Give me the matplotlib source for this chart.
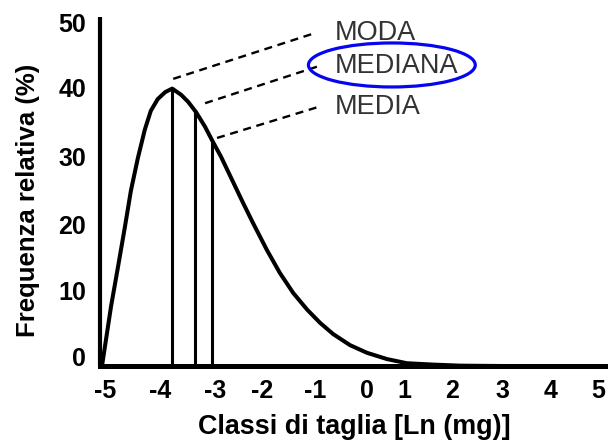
import matplotlib
matplotlib.use("Agg")
import matplotlib.pyplot as plt
from matplotlib.patches import Ellipse

plt.rcParams['font.family'] = ['Liberation Sans', 'DejaVu Sans']

# Size-class frequency curve (x: Ln(mg), y: relative frequency %)
curve_x = [-5.00, -4.82, -4.68, -4.54, -4.42, -4.28, -4.14, -4.02, -3.88, -3.73,
           -3.59, -3.41, -3.27, -3.11, -2.93, -2.77, -2.61, -2.37, -2.17, -1.97,
           -1.69, -1.43, -1.16, -0.88, -0.62, -0.36, -0.02, 0.32, 0.72, 1.12,
           1.65, 2.19, 3.00]
curve_y = [0.0, 8.5, 14.2, 20.0, 25.2, 29.9, 34.0, 36.7, 38.4, 39.4,
           39.9, 39.0, 38.0, 36.5, 34.4, 32.2, 30.1, 26.5, 23.5, 20.6,
           16.7, 13.4, 10.5, 8.1, 6.2, 4.6, 3.0, 1.9, 1.0, 0.4,
           0.2, 0.05, 0.0]

# Central tendency measures
stat_names = ['MODA', 'MEDIANA', 'MEDIA']
stat_x = [-3.59, -3.13, -2.79]
stat_y = [39.9, 36.8, 32.5]

x_tick_labels = ['-5', '-4', '-3', '-2', '-1', '0', '1', '2', '3', '4', '5']
y_tick_labels = ['0', '10', '20', '30', '40', '50']

# Label positions along the axes
x_tick_pos = [-4.94, -3.84, -2.73, -1.79, -0.72, 0.32, 1.08, 2.03, 3.05, 4.00, 4.96]
y_tick_pos = [1.3, 10.9, 20.4, 30.1, 40.0, 49.4]

W, H = 608, 443
fig = plt.figure(figsize=(W / 100, H / 100), dpi=100)
ax = fig.add_axes([100 / W, (H - 366) / H, 508 / W, 349 / H])
ax.set_xlim(-5.04, 5.16)
ax.set_ylim(0, 50.2)

ax.plot(curve_x, curve_y, color='black', lw=2.9, solid_capstyle='round',
        solid_joinstyle='round', zorder=3)

ax.vlines(stat_x, 0, stat_y, color='black', lw=2.2, zorder=3)

# Dashed leaders from each measure to its label
leader_start = [(-3.57, 41.3), (-2.93, 37.8), (-2.69, 32.8)]
leader_end = [(-0.72, 47.9), (-0.62, 43.2), (-0.64, 37.3)]
label_y = [47.9, 43.2, 37.3]
for (x0, y0), (x1, y1), name, ly in zip(leader_start, leader_end, stat_names, label_y):
    ax.plot([x0, x1], [y0, y1], color='black', lw=1.7, linestyle=(0, (3.4, 2.4)),
            zorder=3, clip_on=False)
    ax.text(-0.32, ly, name, fontsize=19.5, color='#333333', ha='left',
            va='center', zorder=4)

ax.add_patch(Ellipse((0.82, 43.3), 3.35, 6.33, fill=False, edgecolor='#0505f0',
                     lw=2.3, zorder=5, clip_on=False))

for s in ['top', 'right']:
    ax.spines[s].set_visible(False)
ax.spines['left'].set_linewidth(3.0)
ax.spines['bottom'].set_linewidth(3.6)
ax.spines['left'].set_capstyle('butt')

ax.set_xticks(x_tick_pos)
ax.set_xticklabels(x_tick_labels)
ax.set_yticks(y_tick_pos)
ax.set_yticklabels(y_tick_labels)
ax.tick_params(axis='both', length=0, labelsize=18)
ax.tick_params(axis='x', pad=9)
ax.tick_params(axis='y', pad=10)
for lab in ax.get_xticklabels() + ax.get_yticklabels():
    lab.set_fontweight('bold')

ax.set_xlabel('Classi di taglia [Ln (mg)]', fontsize=19.4, fontweight='bold', va='center')
ax.xaxis.set_label_coords(0.5, -0.175)
ax.set_ylabel('Frequenza relativa (%)', fontsize=18.5, fontweight='bold', va='center')
ax.yaxis.set_label_coords(-0.142, 0.476)

fig.savefig('out.png', dpi=100)
